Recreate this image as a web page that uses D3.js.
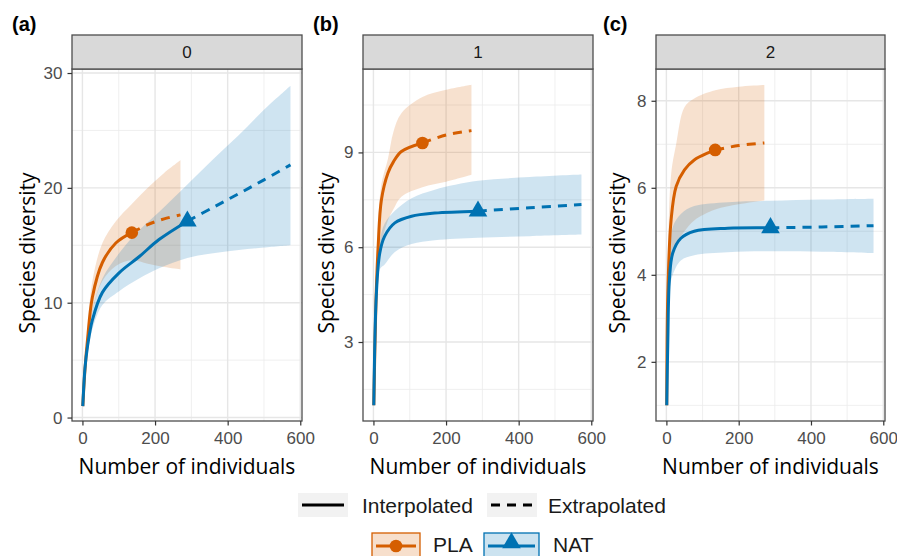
<!DOCTYPE html>
<html><head><meta charset="utf-8">
<script src="https://cdn.jsdelivr.net/npm/d3@7"></script>
<style>body{margin:0;background:#fff} svg{display:block}</style>
</head><body><svg id="c" width="897" height="556"></svg>
<script>
// ---------- data ----------
const seriesNames = ["PLA", "NAT"];
const seriesColors = ["#D55E00", "#0072B2"];
const observedN = [135, 288];
const panelLabels = ["(a)", "(b)", "(c)"];
const stripLabels = ["0", "1", "2"];
const xTicks = [0, 200, 400, 600];
const xMinor = [100, 300, 500];
const yTicks0 = [0, 10, 20, 30];
const yMinor0 = [5, 15, 25];
const yTicks1 = [3, 6, 9];
const yMinor1 = [1.5, 4.5, 7.5, 10.5];
const yTicks2 = [2, 4, 6, 8];
const yMinor2 = [1, 3, 5, 7];
const linetypeLabels = ["Interpolated", "Extrapolated"];

// rows: [individuals, estimate, lower CI, upper CI]
const q0_PLA = [[1,1,1,1],[7,4.2,3.7,4.8],[14,6.8,5.9,7.8],[27.5,10.5,9.2,11.9],[55,13.5,11.9,15.2],[92,15.2,13.2,17.1],[136,16.1,13.7,18.6],[180,16.8,13.4,20.0],[225,17.3,13.1,21.3],[270,17.65,12.9,22.4]];
const q0_NAT = [[1,1,1,1],[7,4.3,3.9,4.7],[14,6.2,5.5,6.9],[27.5,8.5,7.7,9.4],[55,10.9,9.8,12.1],[101,12.6,11.0,14.3],[156,14.0,12.1,16.3],[211,15.5,13.0,17.9],[289,17.1,13.9,20.3],[360,18.3,14.3,22.5],[431,19.5,14.6,24.6],[500,20.7,14.8,26.8],[573,22.0,15.0,28.9]];
const q1_PLA = [[1,1,1,1],[7,4.3,3.8,4.8],[13,6.03,5.1,6.8],[22,7.5,6.1,8.0],[40,8.35,6.85,8.8],[55,8.7,7.2,9.65],[77,9.03,7.6,10.24],[135,9.3,7.9,10.75],[200,9.55,8.07,10.98],[270,9.69,8.29,11.14]];
const q1_NAT = [[1,1,1,1],[8,4.5,4.1,4.9],[17.5,5.82,5.3,6.2],[31,6.35,5.45,6.75],[59,6.77,5.85,7.15],[105,6.98,6.1,7.55],[169,7.08,6.22,7.82],[288,7.14,6.3,8.1],[430,7.25,6.35,8.22],[573,7.35,6.4,8.3]];
const q2_PLA = [[1,1,1,1],[4,3.58,3.0,4.2],[13,5.26,4.2,6.3],[27,6.03,4.7,7.0],[50,6.41,5.0,7.85],[77,6.64,5.25,8.05],[135,6.87,5.5,8.24],[200,6.97,5.62,8.32],[271,7.03,5.71,8.36]];
const q2_NAT = [[1,1,1,1],[4,2.5,2.3,2.7],[8.4,3.89,3.6,4.2],[17.6,4.5,4.0,5.1],[40,4.84,4.33,5.4],[77,5.0,4.45,5.58],[170,5.07,4.52,5.67],[288,5.08,4.54,5.7],[430,5.1,4.53,5.73],[573,5.13,4.5,5.75]];

// ---------- layout ----------
const panels = [
  {left:72,  right:302, yDom:[-0.3,30.35], yT:yTicks0, yM:yMinor0, data:[q0_PLA,q0_NAT], labX:12,  titleX:28},
  {left:363, right:593, yDom:[0.5,11.64],  yT:yTicks1, yM:yMinor1, data:[q1_PLA,q1_NAT], labX:313, titleX:327},
  {left:656, right:885, yDom:[0.64,8.73],  yT:yTicks2, yM:yMinor2, data:[q2_PLA,q2_NAT], labX:603, titleX:618}
];
const pTop = 69, pBottom = 421, stripTop = 35;
const svg = d3.select("#c");
const tickFont = "'Liberation Sans', Arial, sans-serif";
const titleFont = "'Open Sans', 'Noto Sans', sans-serif";
const curve = d3.curveCatmullRom.alpha(0.5);

panels.forEach((p, pi) => {
  const x = d3.scaleLinear().domain([-28.75, 604.75]).range([p.left, p.right]);
  const y = d3.scaleLinear().domain(p.yDom).range([pBottom, pTop]);
  const g = svg.append("g");
  g.append("rect").attr("x", p.left).attr("y", pTop).attr("width", p.right - p.left).attr("height", pBottom - pTop).attr("fill", "#fff");
  g.selectAll(".mx").data(xMinor).join("line").attr("x1", d => x(d)).attr("x2", d => x(d)).attr("y1", pTop).attr("y2", pBottom).attr("stroke", "#ebebeb").attr("stroke-width", 0.8);
  g.selectAll(".my").data(p.yM).join("line").attr("y1", d => y(d)).attr("y2", d => y(d)).attr("x1", p.left).attr("x2", p.right).attr("stroke", "#ebebeb").attr("stroke-width", 0.8);
  g.selectAll(".gx").data(xTicks).join("line").attr("x1", d => x(d)).attr("x2", d => x(d)).attr("y1", pTop).attr("y2", pBottom).attr("stroke", "#e6e6e6").attr("stroke-width", 1.4);
  g.selectAll(".gy").data(p.yT).join("line").attr("y1", d => y(d)).attr("y2", d => y(d)).attr("x1", p.left).attr("x2", p.right).attr("stroke", "#e6e6e6").attr("stroke-width", 1.4);

  const clip = "clip" + pi;
  svg.append("clipPath").attr("id", clip).append("rect").attr("x", p.left).attr("y", pTop).attr("width", p.right - p.left).attr("height", pBottom - pTop);
  const pg = g.append("g").attr("clip-path", `url(#${clip})`);

  const area = d3.area().x(d => x(d[0])).y0(d => y(d[2])).y1(d => y(d[3])).curve(curve);
  p.data.forEach((ser, si) => {
    pg.append("path").datum(ser).attr("d", area).attr("fill", seriesColors[si]).attr("fill-opacity", 0.19);
  });
  const line = d3.line().x(d => x(d[0])).y(d => y(d[1])).curve(curve);
  p.data.forEach((ser, si) => {
    const n = observedN[si];
    const interp = ser.filter(d => d[0] <= n + 1);
    const extrap = ser.filter(d => d[0] >= n - 1);
    pg.append("path").datum(interp).attr("d", line).attr("fill", "none").attr("stroke", seriesColors[si]).attr("stroke-width", 3);
    pg.append("path").datum(extrap).attr("d", line).attr("fill", "none").attr("stroke", seriesColors[si]).attr("stroke-width", 3).attr("stroke-dasharray", "9,7");
  });
  p.data.forEach((ser, si) => {
    const n = observedN[si];
    const pt = ser.reduce((a, b) => Math.abs(b[0] - n) < Math.abs(a[0] - n) ? b : a);
    const sym = si === 0 ? d3.symbol().type(d3.symbolCircle).size(125) : d3.symbol().type(d3.symbolTriangle).size(150);
    pg.append("path").attr("d", sym()).attr("transform", `translate(${x(pt[0])},${y(pt[1])})`).attr("fill", seriesColors[si]);
  });

  g.append("rect").attr("x", p.left).attr("y", pTop).attr("width", p.right - p.left).attr("height", pBottom - pTop).attr("fill", "none").attr("stroke", "#4d4d4d").attr("stroke-width", 1.3);
  g.append("rect").attr("x", p.left).attr("y", stripTop).attr("width", p.right - p.left).attr("height", pTop - stripTop).attr("fill", "#d9d9d9").attr("stroke", "#4d4d4d").attr("stroke-width", 1.3);
  g.append("text").attr("x", (p.left + p.right) / 2).attr("y", (stripTop + pTop) / 2).attr("dy", "0.36em").attr("text-anchor", "middle").attr("font-family", tickFont).attr("font-size", 17).attr("fill", "#1a1a1a").text(stripLabels[pi]);

  const xa = g.append("g").attr("transform", `translate(0,${pBottom})`).call(d3.axisBottom(x).tickValues(xTicks).tickSize(4.5).tickPadding(6));
  const ya = g.append("g").attr("transform", `translate(${p.left},0)`).call(d3.axisLeft(y).tickValues(p.yT).tickSize(4.5).tickPadding(5));
  [xa, ya].forEach(a => {
    a.select(".domain").remove();
    a.selectAll("line").attr("stroke", "#333").attr("stroke-width", 1.2);
    a.selectAll("text").attr("font-family", tickFont).attr("font-size", 17).attr("fill", "#4d4d4d");
  });

  g.append("text").attr("x", (p.left + p.right) / 2).attr("y", 474).attr("text-anchor", "middle").attr("font-family", titleFont).attr("font-size", 21).attr("fill", "#000").text("Number of individuals");
  g.append("text").attr("transform", `translate(${p.titleX},253) rotate(-90)`).attr("dy", "0.35em").attr("text-anchor", "middle").attr("font-family", titleFont).attr("font-size", 21).attr("fill", "#000").text("Species diversity");
  g.append("text").attr("x", p.labX).attr("y", 31).attr("font-family", tickFont).attr("font-weight", "bold").attr("font-size", 20).attr("fill", "#000").text(panelLabels[pi]);
});

// ---------- legend ----------
const lg = svg.append("g");
const ltKeys = [{x:298, dash:null, tx:362}, {x:487, dash:"9,7", tx:548}];
ltKeys.forEach((k, i) => {
  lg.append("rect").attr("x", k.x).attr("y", 493).attr("width", 50).attr("height", 24).attr("fill", "#f2f2f2");
  lg.append("line").attr("x1", k.x + 4).attr("x2", k.x + 46).attr("y1", 505).attr("y2", 505).attr("stroke", "#000").attr("stroke-width", 3).attr("stroke-dasharray", k.dash);
  lg.append("text").attr("x", k.tx).attr("y", 506).attr("dy", "0.35em").attr("font-family", tickFont).attr("font-size", 21).attr("fill", "#1a1a1a").text(linetypeLabels[i]);
});
const sKeys = [{x:372, w:48, tx:433}, {x:484, w:55, tx:553}];
sKeys.forEach((k, i) => {
  lg.append("rect").attr("x", k.x).attr("y", 533).attr("width", k.w).attr("height", 26).attr("fill", seriesColors[i]).attr("fill-opacity", 0.2).attr("stroke", seriesColors[i]).attr("stroke-width", 1.3);
  lg.append("line").attr("x1", k.x + 4).attr("x2", k.x + k.w - 4).attr("y1", 546).attr("y2", 546).attr("stroke", seriesColors[i]).attr("stroke-width", 3);
  const sym = i === 0 ? d3.symbol().type(d3.symbolCircle).size(125) : d3.symbol().type(d3.symbolTriangle).size(150);
  lg.append("path").attr("d", sym()).attr("transform", `translate(${k.x + k.w / 2},${i === 0 ? 546 : 543})`).attr("fill", seriesColors[i]);
  lg.append("text").attr("x", k.tx).attr("y", 545).attr("dy", "0.35em").attr("font-family", tickFont).attr("font-size", 21).attr("fill", "#1a1a1a").text(seriesNames[i]);
});
</script></body></html>
